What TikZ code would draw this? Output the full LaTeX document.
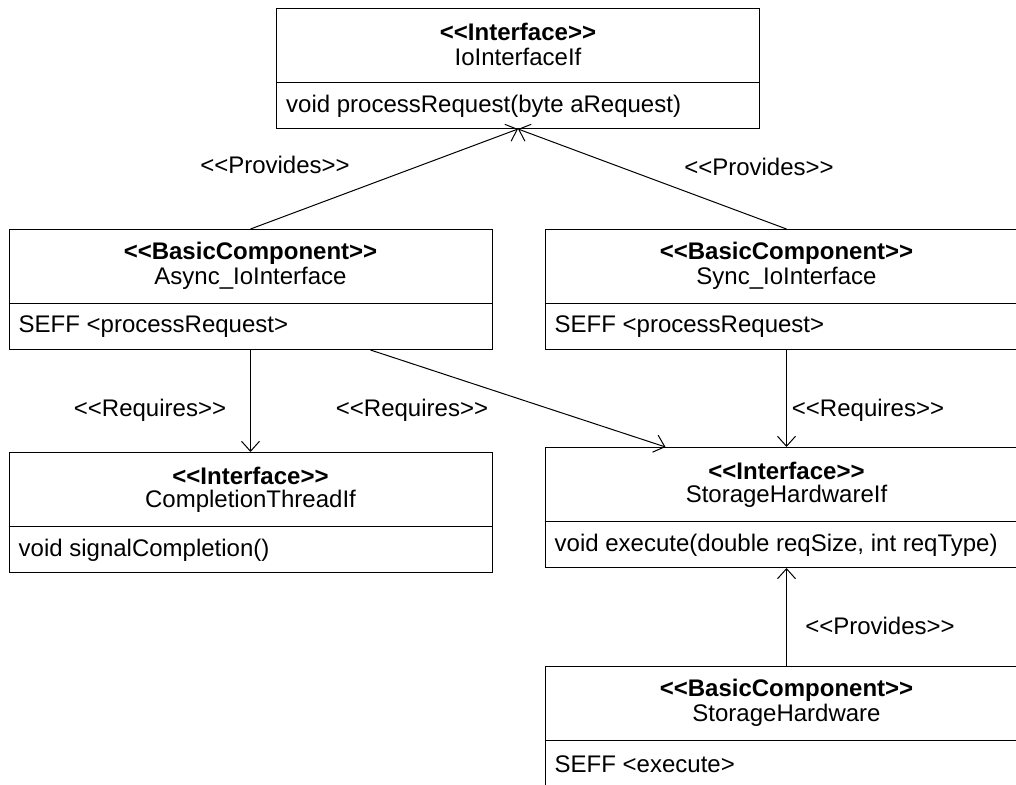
\documentclass[tikz,border=0pt]{standalone}
\usepackage{fontspec}
\setmainfont{Liberation Sans}
\usetikzlibrary{arrows.meta,calc}
\newcommand\stereo[1]{<\kern0pt<#1>\kern0pt>}
\begin{document}
\begin{tikzpicture}[x=1pt,y=-1pt,
  every node/.style={font=\fontsize{24}{28}\selectfont, inner sep=0pt},
  umlbox/.style={draw, line width=1pt, minimum width=483pt, minimum height=120pt, anchor=north},
  sepline/.style={line width=1pt},
  conn/.style={draw, line width=1pt, -{Straight Barb[length=10pt,width=18pt,line width=1pt]}},
  member/.style={anchor=west}
]
\useasboundingbox (0,0) rectangle (1016,784);
\fill[white] (0,0) rectangle (1016,784);
\clip (0,0) rectangle (1016,784);

% boxes
\node[umlbox] (ioif) at (518,8) {};
\node[umlbox] (async) at (250.5,229) {};
\node[umlbox] (sync) at (786.5,229) {};
\node[umlbox] (ctif) at (250.5,452) {};
\node[umlbox] (shif) at (786.5,447) {};
\node[umlbox] (sh) at (786.5,666) {};

% separators
\foreach \b in {ioif,async,sync,ctif,shif,sh}{
  \draw[sepline] ($(\b.north west)+(0,74)$) -- ($(\b.north east)+(0,74)$);
}

% texts
\node (ioif-st) at ($(ioif.north)+(0,24)$) {\bfseries\stereo{Interface}};
\node (ioif-nm) at ($(ioif.north)+(0,49)$) {IoInterfaceIf};
\node[member] (ioif-m) at ($(ioif.north west)+(10,98)$) {void processRequest(byte aRequest)};

\node (async-st) at ($(async.north)+(0,24)$) {\bfseries\stereo{BasicComponent}};
\node (async-nm) at ($(async.north)+(0,49)$) {Async\_IoInterface};
\node[member] (async-m) at ($(async.north west)+(10,98)$) {SEFF <processRequest>};

\node (sync-st) at ($(sync.north)+(0,24)$) {\bfseries\stereo{BasicComponent}};
\node (sync-nm) at ($(sync.north)+(0,49)$) {Sync\_IoInterface};
\node[member] (sync-m) at ($(sync.north west)+(10,98)$) {SEFF <processRequest>};

\node (ctif-st) at ($(ctif.north)+(0,24)$) {\bfseries\stereo{Interface}};
\node (ctif-nm) at ($(ctif.north)+(0,49)$) {CompletionThreadIf};
\node[member] (ctif-m) at ($(ctif.north west)+(10,98)$) {void signalCompletion()};

\node (shif-st) at ($(shif.north)+(0,24)$) {\bfseries\stereo{Interface}};
\node (shif-nm) at ($(shif.north)+(0,49)$) {StorageHardwareIf};
\node[member] (shif-m) at ($(shif.north west)+(10,98)$) {void execute(double reqSize, int reqType)};

\node (sh-st) at ($(sh.north)+(0,24)$) {\bfseries\stereo{BasicComponent}};
\node (sh-nm) at ($(sh.north)+(0,49)$) {StorageHardware};
\node[member] (sh-m) at ($(sh.north west)+(10,98)$) {SEFF <execute>};

% connectors
\draw[conn] (async.north) -- (ioif.south);
\draw[conn] (sync.north) -- (ioif.south);
\draw[conn] (async.south) -- (ctif.north);
\draw[conn] ($(async.south)+(120,0)$) -- ($(shif.north)+(-121,0)$);
\draw[conn] (sync.south) -- (shif.north);
\draw[conn] (sh.north) -- (shif.south);

% labels
\node (l1) at (275,165) {\stereo{Provides}};
\node (l2) at (759,167) {\stereo{Provides}};
\node (l3) at (150,410) {\stereo{Requires}};
\node (l4) at (412,410) {\stereo{Requires}};
\node (l5) at (868,410) {\stereo{Requires}};
\node (l6) at (880,626) {\stereo{Provides}};
\end{tikzpicture}
\end{document}
